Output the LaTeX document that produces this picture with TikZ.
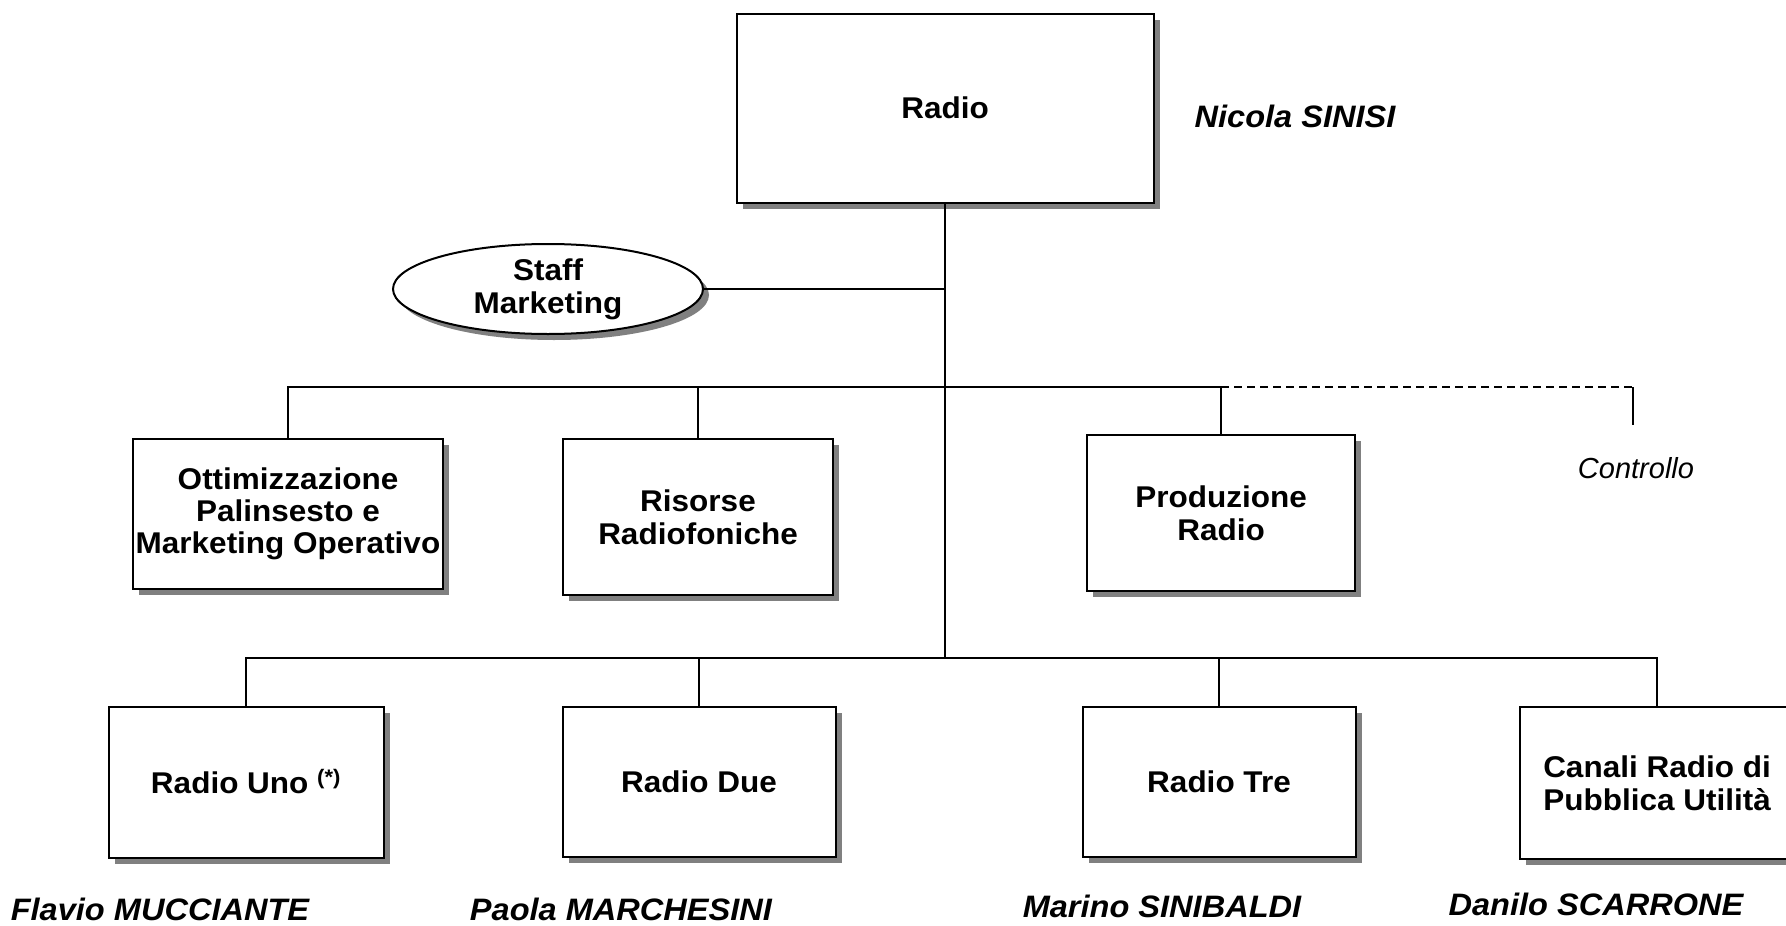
\documentclass[tikz,border=0pt]{standalone}
\usepackage{fontspec}
\setmainfont{Liberation Sans}
\newfontfamily\boxfont[FakeStretch=1.05]{Liberation Sans}
\usetikzlibrary{shapes.geometric,shadows}

\tikzset{
  unit/.style={draw,line width=2pt,fill=white,align=center,inner sep=0pt,
    drop shadow={shadow xshift=6pt,shadow yshift=-6pt,fill=black!50,opacity=1},
    font=\boxfont\bfseries\fontsize{30}{33}\selectfont},
  head/.style={anchor=base,font=\boxfont\bfseries\itshape\fontsize{31}{33}\selectfont},
  link/.style={line width=1.4pt}
}

\begin{document}
\begin{tikzpicture}[x=1pt,y=-1pt]
\useasboundingbox (0,0) rectangle (1786,926);

\begin{scope}[every node/.style={unit}]
\node[minimum width=417,minimum height=189] (R) at (945,108) {Radio};
\node[ellipse,minimum width=310,minimum height=90] (S) at (548,289) {Staff\\Marketing};
\node[minimum width=310,minimum height=150,
  font=\boxfont\bfseries\fontsize{30}{32}\selectfont] (L1) at (288,514) {Ottimizzazione\\Palinsesto e\\Marketing Operativo};
\node[minimum width=270,minimum height=156] (L2) at (698,517) {Risorse\\Radiofoniche};
\node[minimum width=268,minimum height=156] (L3) at (1221,513) {Produzione\\Radio};
\node[minimum width=275,minimum height=151] (C1) at (246,782) {Radio Uno \textsuperscript{(*)}};
\node[minimum width=273,minimum height=150] (C2) at (699,782) {Radio Due};
\node[minimum width=273,minimum height=150] (C3) at (1219,782) {Radio Tre};
\node[minimum width=274,minimum height=152] (C4) at (1657,783) {Canali Radio di\\Pubblica Utilità};
\end{scope}

\begin{scope}[every node/.style={head}]
\node (NR) at (1295,127) {Nicola SINISI};
\node (N1) at (160,920) {Flavio MUCCIANTE};
\node (N2) at (621,920) {Paola MARCHESINI};
\node (N3) at (1162,917) {Marino SINIBALDI};
\node (N4) at (1596,915) {Danilo SCARRONE};
\end{scope}
\node[font=\itshape\fontsize{29}{32}\selectfont] (Ctl) at (1636,468) {Controllo};

\coordinate (B1) at (945,387);
\coordinate (B2) at (945,658);
\coordinate (K1) at (1633,387);
\coordinate (K2) at (1633,425);

\begin{scope}[every path/.style={link}]
\draw (R.south) -- (B2);
\draw (S.east) -- (S.east -| R.south);
\draw (L1.north) -- (L1.north |- B1) -- (L3.north |- B1) -- (L3.north);
\draw (L2.north) -- (L2.north |- B1);
\draw[dashed,dash pattern=on 8pt off 5pt] (L3.north |- B1) -- (K1);
\draw (K1) -- (K2);
\draw (C1.north) -- (C1.north |- B2) -- (C4.north |- B2) -- (C4.north);
\draw (C2.north) -- (C2.north |- B2);
\draw (C3.north) -- (C3.north |- B2);
\end{scope}
\end{tikzpicture}
\end{document}
